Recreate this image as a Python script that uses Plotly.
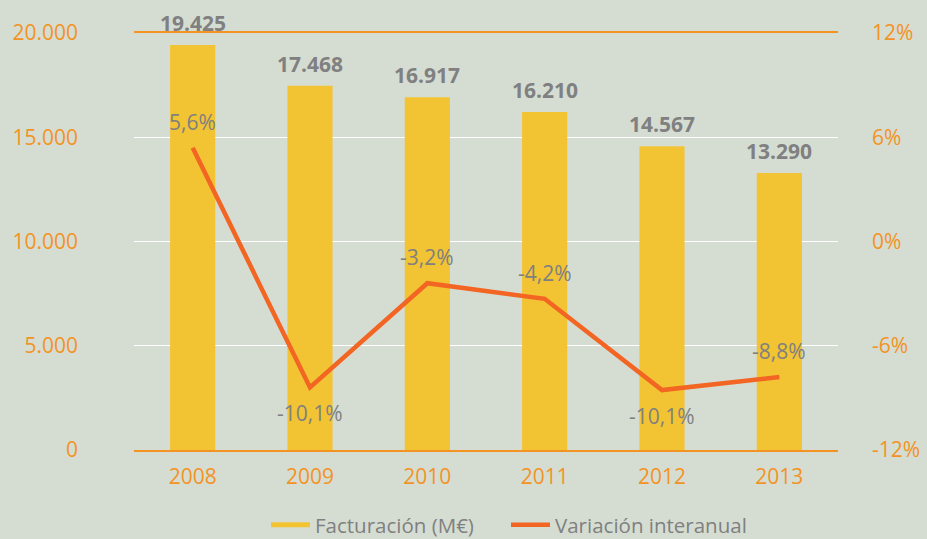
import plotly.graph_objects as go

years = ["2008", "2009", "2010", "2011", "2012", "2013"]
facturacion = [19425, 17468, 16917, 16210, 14567, 13290]
facturacion_labels = ["19.425", "17.468", "16.917", "16.210", "14.567", "13.290"]
variacion_plot = [5.4, -8.4, -2.4, -3.3, -8.55, -7.8]
variacion_labels = ["5,6%", "-10,1%", "-3,2%", "-4,2%", "-10,1%", "-8,8%"]
variacion_label_side = [1, -1, 1, 1, -1, 1]

left_ticks = [0, 5000, 10000, 15000, 20000]
left_ticktext = ["0", "5.000", "10.000", "15.000", "20.000"]
right_ticks = [-12, -6, 0, 6, 12]
right_ticktext = ["-12%", "-6%", "0%", "6%", "12%"]

BG = "#d5ddd3"
YELLOW = "#f2c433"
LINE = "#f26522"
AXIS = "#f39324"
GREY = "#808080"
FONT = "Open Sans"

fig = go.Figure()
fig.add_trace(go.Bar(x=years, y=facturacion, marker=dict(color=YELLOW, line=dict(width=0)),
                     showlegend=False, yaxis="y"))
fig.add_trace(go.Scatter(x=[None], y=[None], mode="lines", line=dict(color=YELLOW, width=5),
                         name="Facturación (M€)"))
fig.add_trace(go.Scatter(x=years, y=variacion_plot, mode="lines", line=dict(color=LINE, width=4.5),
                         name="Variación interanual", yaxis="y2"))

annotations = []
for i, (v, t) in enumerate(zip(facturacion, facturacion_labels)):
    annotations.append(dict(x=i, y=v, xref="x", yref="y", text=t, showarrow=False,
                            yanchor="bottom", yshift=6,
                            font=dict(family=FONT, size=21, color=GREY, weight="bold")))
for i, (v, t, s) in enumerate(zip(variacion_plot, variacion_labels, variacion_label_side)):
    annotations.append(dict(x=i, y=v, xref="x", yref="y2", text=t, showarrow=False,
                            yanchor="middle", yshift=26 * s,
                            font=dict(family=FONT, size=21, color=GREY)))

fig.update_layout(
    width=927, height=539,
    margin=dict(l=134, r=89, t=33, b=89, autoexpand=False),
    paper_bgcolor=BG, plot_bgcolor=BG,
    font=dict(family=FONT, size=21, color=AXIS),
    bargap=0.615,
    showlegend=True,
    legend=dict(orientation="h", x=0.1875, xanchor="left", y=0.026, yanchor="middle",
                yref="container",
                font=dict(family=FONT, size=20.5, color=GREY), bgcolor="rgba(0,0,0,0)",
                itemwidth=39, entrywidth=186, entrywidthmode="pixels"),
    xaxis=dict(type="category", categoryorder="array", categoryarray=years,
               range=[-0.5, len(years) - 0.5],
               showline=True, linecolor=AXIS, linewidth=2, mirror=True, showgrid=False,
               ticks="", tickfont=dict(color=AXIS, size=21), ticklabelstandoff=7),
    yaxis=dict(range=[0, 20000], tickvals=left_ticks, ticktext=left_ticktext,
               showgrid=True, gridcolor="white", gridwidth=1, zeroline=False,
               showline=False, ticks="", tickfont=dict(color=AXIS, size=21),
               ticklabelstandoff=55),
    yaxis2=dict(range=[-12, 12], tickvals=right_ticks, ticktext=right_ticktext,
                overlaying="y", side="right", showgrid=False, zeroline=False,
                showline=False, ticks="", tickfont=dict(color=AXIS, size=21),
                ticklabelstandoff=33),
    annotations=annotations,
)

fig.write_html("out.html", config={"displayModeBar": False},
               post_script="document.body.style.margin='0';")
